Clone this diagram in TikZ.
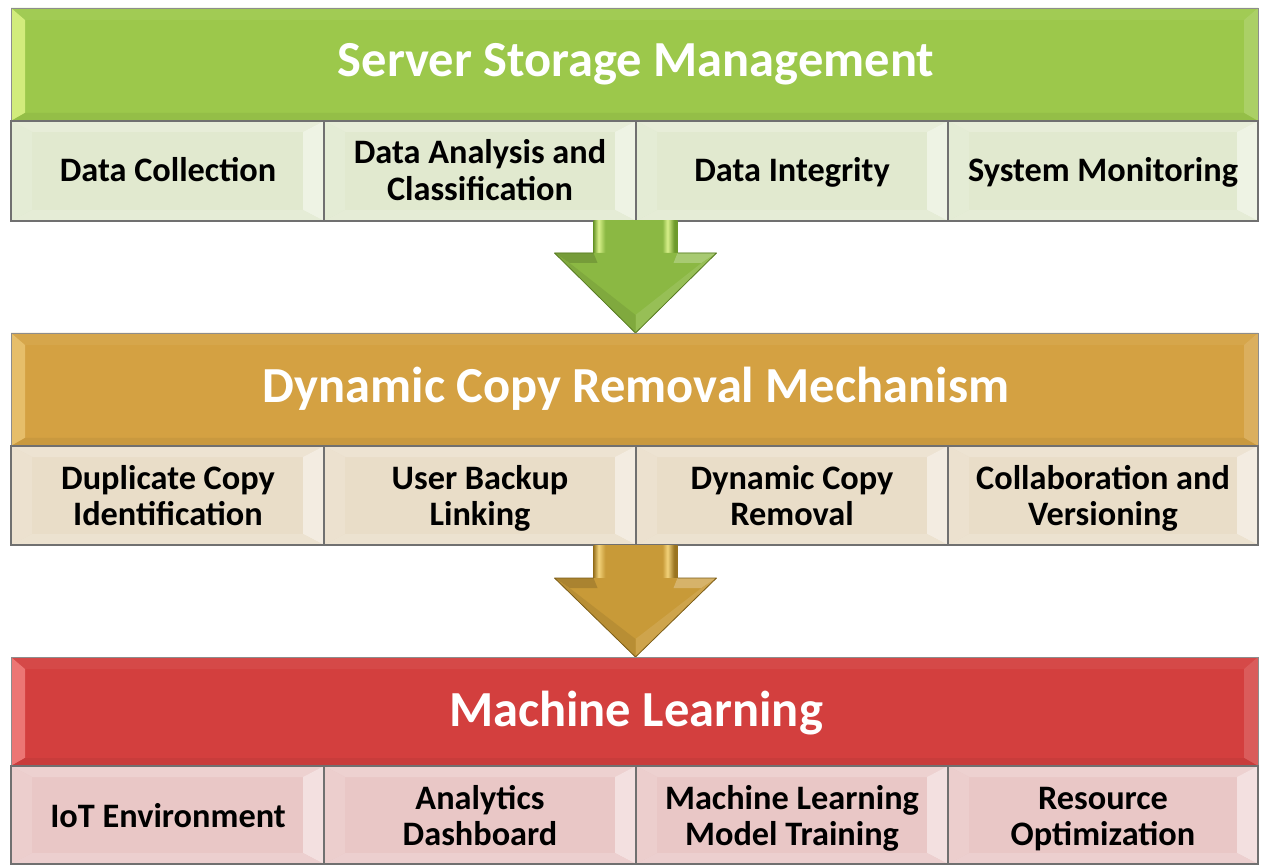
\documentclass[tikz,border=0pt]{standalone}
\usepackage{fontspec}
\setmainfont{Carlito}
\definecolor{gHead}{HTML}{9CC84B}
\definecolor{gSub}{HTML}{E1E9CF}
\definecolor{oHead}{HTML}{D4A142}
\definecolor{oSub}{HTML}{E9DDC8}
\definecolor{rHead}{HTML}{D33F3E}
\definecolor{rSub}{HTML}{E9C7C6}
\definecolor{gLeft}{HTML}{D2EC7C}
\definecolor{oLeft}{HTML}{E6BE6A}
\definecolor{rLeft}{HTML}{EC7674}
\definecolor{edgeGray}{HTML}{707070}
\definecolor{gA}{HTML}{6E9A2C}
\definecolor{gB}{HTML}{D8F08A}
\definecolor{gC}{HTML}{8BB843}
\definecolor{oA}{HTML}{9A7420}
\definecolor{oB}{HTML}{F2D27A}
\definecolor{oC}{HTML}{C89A38}
\pgfdeclarehorizontalshading{gshaft}{100bp}{color(0bp)=(gA); color(25bp)=(gA); color(28bp)=(gB); color(32bp)=(gC); color(50bp)=(gC); color(66bp)=(gC); color(69bp)=(gB); color(73bp)=(gA); color(100bp)=(gA)}
\pgfdeclarehorizontalshading{oshaft}{100bp}{color(0bp)=(oA); color(25bp)=(oA); color(28bp)=(oB); color(32bp)=(oC); color(50bp)=(oC); color(66bp)=(oC); color(69bp)=(oB); color(73bp)=(oA); color(100bp)=(oA)}
% beveled box: x1,y1,x2,y2,inset x,inset y,base colour
\newcommand\bevbox[7]{%
  \fill[#7] (#1,#2) rectangle (#3,#4);
  \fill[#7!82!white] (#1,#2) -- (#3,#2) -- (#3-#5,#2+#6) -- (#1+#5,#2+#6) -- cycle;
  \fill[#7!88!white] (#1,#2) -- (#1+#5,#2+#6) -- (#1+#5,#4-#6) -- (#1,#4) -- cycle;
  \fill[#7!55!white] (#3,#2) -- (#3,#4) -- (#3-#5,#4-#6) -- (#3-#5,#2+#6) -- cycle;
  \fill[#7!85!white] (#1,#4) -- (#1+#5,#4-#6) -- (#3-#5,#4-#6) -- (#3,#4) -- cycle;
  \draw[edgeGray, line width=1.2pt] (#1,#2) rectangle (#3,#4);}
% header: x1,y1,x2,y2,base colour,left highlight
\newcommand\hdrbox[6]{%
  \fill[#5] (#1,#2) rectangle (#3,#4);
  \fill[#5!95!white] (#1,#2) -- (#3,#2) -- (#3-14,#2+12) -- (#1+14,#2+12) -- cycle;
  \fill[#6] (#1,#2) -- (#1+14,#2+12) -- (#1+14,#4-8) -- (#1,#4) -- cycle;
  \fill[#5!85!white] (#3,#2) -- (#3,#4) -- (#3-14,#4-8) -- (#3-14,#2+12) -- cycle;
  \fill[#5!95!black] (#1,#4) -- (#1+14,#4-8) -- (#3-14,#4-8) -- (#3,#4) -- cycle;
  \draw[edgeGray!80, line width=0.8pt] (#1,#2) rectangle (#3,#4);}
% block arrow: centre x, top y, shaft bottom y, tip y, shading, base, dark
\newcommand\blockarrow[7]{%
  \shade[shading=#5] (#1-42,#2) rectangle (#1+42,#3+2);
  \fill[#6] (#1-81,#3) -- (#1+81,#3) -- (#1,#4) -- cycle;
  \fill[#6!75!white] (#1+42,#3) -- (#1+81,#3) -- (#1+66,#3+10) -- (#1+38,#3+10) -- cycle;
  \fill[#6!85!black] (#1-81,#3) -- (#1-42,#3) -- (#1-38,#3+10) -- (#1-66,#3+10) -- cycle;
  \fill[#6!90!white] (#1+66,#3+10) -- (#1+81,#3) -- (#1,#4) -- (#1,#4-18) -- cycle;
  \fill[#6!92!black] (#1-66,#3+10) -- (#1-81,#3) -- (#1,#4) -- (#1,#4-18) -- cycle;
  \draw[#7, line width=0.8pt, line join=round] (#1-42,#3) -- (#1-81,#3) -- (#1,#4) -- (#1+81,#3) -- (#1+42,#3);}
\tikzset{
  hdrtext/.style={font=\bfseries\fontsize{50.5}{58}\selectfont, text=white, align=center, anchor=base},
  subtext/.style={font=\bfseries\fontsize{34.3}{36.5}\selectfont, text=black, align=center, anchor=base}
}
\begin{document}
\begin{tikzpicture}[x=1pt,y=-1pt]
\fill[white] (0,0) rectangle (1264,866);
\useasboundingbox (0,0) rectangle (1264,866);
% ---------- green section
\hdrbox{11}{8}{1258}{121}{gHead}{gLeft}
\bevbox{11}{121}{324}{221}{21}{11}{gSub}
\bevbox{324}{121}{636}{221}{21}{11}{gSub}
\bevbox{636}{121}{948}{221}{21}{11}{gSub}
\bevbox{948}{121}{1258}{221}{21}{11}{gSub}
\node[hdrtext] (h1) at (636,77) {Server Storage Management};
\node[subtext] (s11) at (168,182) {Data Collection};
\node[subtext] (s12) at (480,200.5) {Data Analysis and\\Classification};
\node[subtext] (s13) at (792,182) {Data Integrity};
\node[subtext] (s14) at (1103,182) {System Monitoring};
% ---------- arrow 1
\blockarrow{635.5}{221}{253}{333}{gshaft}{gC}{gA!80!black}
% ---------- gold section
\hdrbox{11}{333}{1258}{446}{oHead}{oLeft}
\bevbox{11}{446}{324}{545}{21}{11}{oSub}
\bevbox{324}{446}{636}{545}{21}{11}{oSub}
\bevbox{636}{446}{948}{545}{21}{11}{oSub}
\bevbox{948}{446}{1258}{545}{21}{11}{oSub}
\node[hdrtext] (h2) at (636,403) {Dynamic Copy Removal Mechanism};
\node[subtext] (s21) at (168,525.5) {Duplicate Copy\\Identification};
\node[subtext] (s22) at (480,525.5) {User Backup\\Linking};
\node[subtext] (s23) at (792,525.5) {Dynamic Copy\\Removal};
\node[subtext] (s24) at (1103,525.5) {Collaboration and\\Versioning};
% ---------- arrow 2
\blockarrow{635.5}{545}{578}{657}{oshaft}{oC}{oA!80!black}
% ---------- red section
\hdrbox{11}{657}{1258}{766}{rHead}{rLeft}
\bevbox{11}{766}{324}{864}{21}{11}{rSub}
\bevbox{324}{766}{636}{864}{21}{11}{rSub}
\bevbox{636}{766}{948}{864}{21}{11}{rSub}
\bevbox{948}{766}{1258}{864}{21}{11}{rSub}
\node[hdrtext] (h3) at (636,726) {Machine Learning};
\node[subtext] (s31) at (168,827) {IoT Environment};
\node[subtext] (s32) at (480,845.5) {Analytics\\Dashboard};
\node[subtext] (s33) at (792,845.5) {Machine Learning\\Model Training};
\node[subtext] (s34) at (1103,845.5) {Resource\\Optimization};
\end{tikzpicture}
\end{document}
